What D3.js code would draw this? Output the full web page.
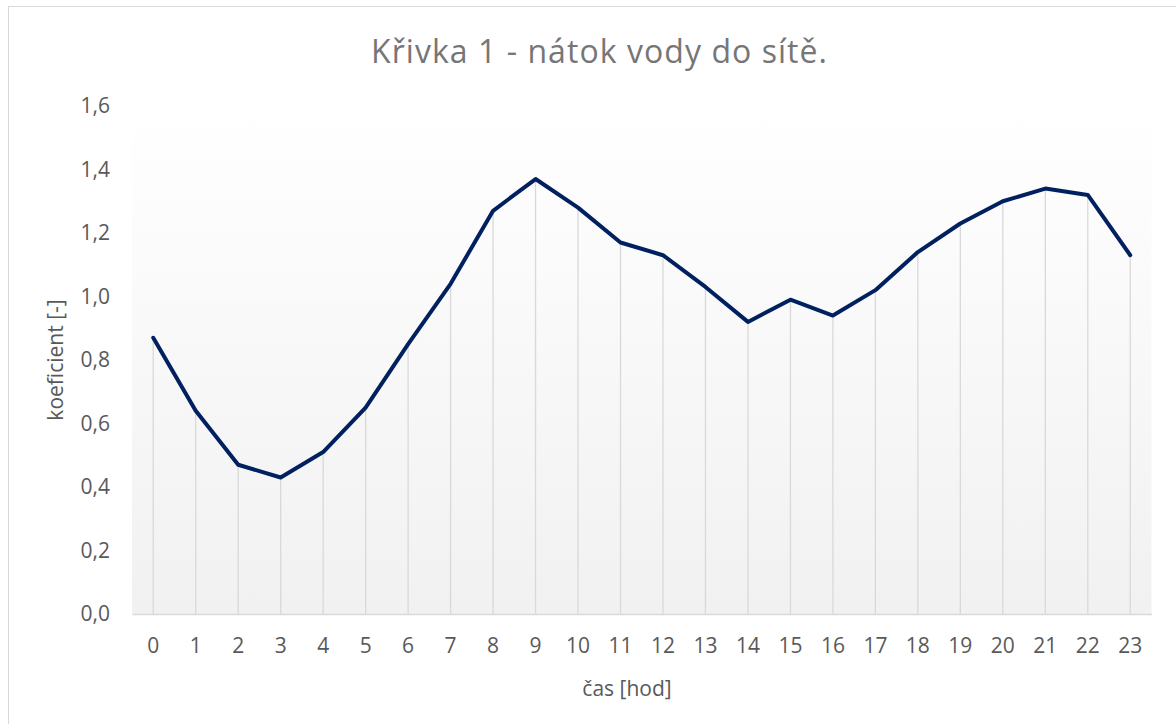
<!DOCTYPE html>
<html>
<head>
<meta charset="utf-8">
<script src="https://cdn.jsdelivr.net/npm/d3@7"></script>
<style>
  body { margin: 0; background: #fff; }
  text { font-family: "Open Sans", sans-serif; }
</style>
</head>
<body>
<script>
// hours on the x axis
const hours = d3.range(0, 24).map(String);
// inflow coefficient per hour
const coef = [0.87, 0.64, 0.47, 0.43, 0.51, 0.65, 0.85, 1.04, 1.27, 1.37, 1.28, 1.17,
              1.13, 1.03, 0.92, 0.99, 0.94, 1.02, 1.14, 1.23, 1.30, 1.34, 1.32, 1.13];
const yTicks = [0, 0.2, 0.4, 0.6, 0.8, 1.0, 1.2, 1.4, 1.6];

const w = 1176, h = 724;
const padL = 132, padR = 1151.5, padT = 106, padB = 614;

const svg = d3.select('body').append('svg')
  .attr('width', w)
  .attr('height', h);

// outer chart border (only top/left visible in the crop)
svg.append('rect')
  .attr('x', 8.5).attr('y', 6.5)
  .attr('width', w).attr('height', h)
  .attr('fill', '#fff')
  .attr('stroke', '#d9d9d9')
  .attr('stroke-width', 1);

const defs = svg.append('defs');
const grad = defs.append('linearGradient')
  .attr('id', 'bg')
  .attr('x1', 0).attr('y1', 0).attr('x2', 0).attr('y2', 1);
grad.append('stop').attr('offset', '0%').attr('stop-color', '#ffffff');
grad.append('stop').attr('offset', '100%').attr('stop-color', '#f1f1f1');

const x = d3.scaleBand().domain(hours).range([padL, padR]);
const y = d3.scaleLinear().domain([0, 1.6]).range([padB, padT]);
const cx = d => x(d) + x.bandwidth() / 2;

// plot area
svg.append('rect')
  .attr('x', padL).attr('y', padT)
  .attr('width', padR - padL).attr('height', padB - padT)
  .attr('fill', 'url(#bg)');

// drop lines
svg.append('g').selectAll('line')
  .data(coef)
  .enter().append('line')
  .attr('x1', (d, i) => cx(hours[i]))
  .attr('x2', (d, i) => cx(hours[i]))
  .attr('y1', d => y(d))
  .attr('y2', padB)
  .attr('stroke', '#d9d9d9')
  .attr('stroke-width', 1.3);

// x axis
const xAxis = svg.append('g')
  .attr('transform', 'translate(0,' + padB + ')')
  .call(d3.axisBottom(x).tickSize(0).tickPadding(24));
xAxis.select('.domain').attr('stroke', '#d9d9d9').attr('stroke-width', 1.5);
xAxis.selectAll('text').attr('font-size', 21).attr('fill', '#595959')
  .style('font-family', '"Open Sans", sans-serif');

// y axis (labels only)
const yAxis = svg.append('g')
  .attr('transform', 'translate(' + padL + ',0)')
  .call(d3.axisLeft(y).tickValues(yTicks).tickSize(0).tickPadding(22)
    .tickFormat(d => d3.format('.1f')(d).replace('.', ',')));
yAxis.select('.domain').remove();
yAxis.selectAll('text').attr('font-size', 21).attr('fill', '#595959')
  .style('font-family', '"Open Sans", sans-serif');

// the curve
const line = d3.line()
  .x((d, i) => cx(hours[i]))
  .y(d => y(d));
svg.append('path')
  .datum(coef)
  .attr('d', line)
  .attr('fill', 'none')
  .attr('stroke', '#002060')
  .attr('stroke-width', 4)
  .attr('stroke-linejoin', 'round')
  .attr('stroke-linecap', 'round');

// titles
svg.append('text')
  .attr('x', 599).attr('y', 63)
  .attr('text-anchor', 'middle')
  .attr('font-size', 32)
  .attr('textLength', 456)
  .attr('lengthAdjust', 'spacing')
  .attr('fill', '#767676')
  .text('Křivka 1 - nátok vody do sítě.');

svg.append('text')
  .attr('x', 627).attr('y', 696)
  .attr('text-anchor', 'middle')
  .attr('font-size', 21)
  .attr('fill', '#595959')
  .text('čas [hod]');

svg.append('text')
  .attr('transform', 'translate(63,360) rotate(-90)')
  .attr('text-anchor', 'middle')
  .attr('font-size', 21)
  .attr('fill', '#595959')
  .text('koeficient [-]');
</script>
</body>
</html>
